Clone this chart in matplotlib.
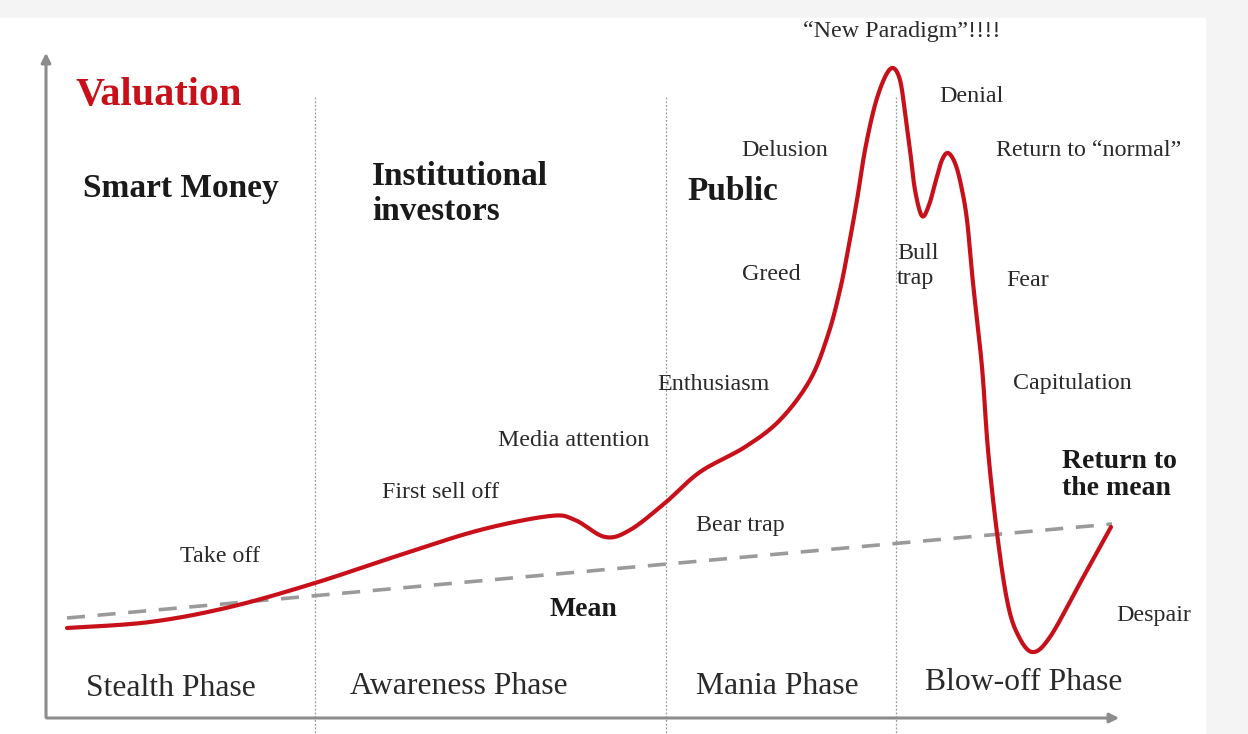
"""Stages of a bubble: valuation over time with the four phases."""

import matplotlib

matplotlib.use("Agg")
import matplotlib.pyplot as plt
import numpy as np
from matplotlib.patches import Rectangle

# valuation curve (x = time, y = screen position, down is low)
curve_x = [67, 150, 230, 315, 400, 480, 550, 575, 605, 630, 665, 700, 745, 780,
           810, 828, 840, 848, 857, 865, 875, 885, 893, 900, 905, 910, 915, 922,
           929, 936, 942, 948, 955, 961, 967, 973, 982, 988, 997, 1007, 1017,
           1032, 1050, 1080, 1111]
curve_y = [628, 622, 607, 583, 555, 530, 516, 520, 537, 530, 503, 472, 447, 420,
           380, 335, 290, 250, 200, 150, 105, 77, 68, 80, 112, 150, 190, 216,
           205, 180, 160, 153, 163, 185, 220, 283, 367, 450, 533, 600, 633,
           652, 637, 583, 527]
mean_x = [67, 1112]
mean_y = [618, 524]
phase_bounds = [315, 666, 896]

RED = "#c8101a"
GREY = "#8c8c8c"
SERIF = ["Liberation Serif", "DejaVu Serif"]


def catmull_rom(xs, ys, n=20):
    p = np.column_stack([xs, ys]).astype(float)
    p = np.vstack([p[0], p, p[-1]])
    out = []
    t = np.linspace(0, 1, n, endpoint=False)[:, None]
    for i in range(1, len(p) - 2):
        p0, p1, p2, p3 = p[i - 1], p[i], p[i + 1], p[i + 2]
        seg = 0.5 * ((2 * p1) + (-p0 + p2) * t + (2 * p0 - 5 * p1 + 4 * p2 - p3) * t ** 2
                     + (-p0 + 3 * p1 - 3 * p2 + p3) * t ** 3)
        out.append(seg)
    out.append(p[-2][None, :])
    s = np.vstack(out)
    return s[:, 0], s[:, 1]


fig = plt.figure(figsize=(12.48, 7.34), dpi=100)
fig.patch.set_facecolor("#f4f4f4")
ax = fig.add_axes([0, 0, 1, 1])
ax.set_xlim(0, 1248)
ax.set_ylim(734, 0)
ax.axis("off")
ax.add_patch(Rectangle((0, 18), 1205, 716, color="white", zorder=0))

# phase separators
for xb in phase_bounds:
    ax.plot([xb, xb], [97, 734], color="#9a9a9a", lw=0.9, ls=(0, (1.5, 1.5)), zorder=1)

# axes arrows
ax.annotate("", xy=(46, 50), xytext=(46, 720),
            arrowprops=dict(arrowstyle="-|>", color=GREY, lw=2.2, mutation_scale=14))
ax.annotate("", xy=(1122, 718), xytext=(44, 718),
            arrowprops=dict(arrowstyle="-|>", color=GREY, lw=2.2, mutation_scale=14))

ax.plot(mean_x, mean_y, color="#9a9a9a", lw=2.6, ls=(0, (5, 3.5)), zorder=2)
sx, sy = catmull_rom(curve_x, curve_y)
ax.plot(sx, sy, color=RED, lw=3, solid_capstyle="round", zorder=3)

ax.text(75, 95, "Valuation", color=RED, fontsize=29, fontweight="bold",
        family=SERIF, va="center")

bold_labels = [
    (83, 188, "Smart Money"),
    (372, 194, "Institutional\ninvestors"),
    (687, 192, "Public"),
]
for x, y, s in bold_labels:
    ax.text(x, y, s, fontsize=24, fontweight="bold", family=SERIF, va="center",
            color="#1a1a1a", linespacing=1.2)

ax.text(1062, 475, "Return to\nthe mean", fontsize=20, fontweight="bold",
        family=SERIF, va="center", color="#1a1a1a", linespacing=1.12)
ax.text(550, 609, "Mean", fontsize=20, fontweight="bold", family=SERIF,
        va="center", color="#1a1a1a")

small_labels = [
    (803, 31, "\u201cNew Paradigm\u201d!!!!"),
    (741, 150, "Delusion"),
    (939, 97, "Denial"),
    (996, 151, "Return to \u201cnormal\u201d"),
    (897, 266, "Bull\ntrap"),
    (742, 274, "Greed"),
    (1006, 281, "Fear"),
    (657, 384, "Enthusiasm"),
    (1013, 384, "Capitulation"),
    (498, 441, "Media attention"),
    (382, 492, "First sell off"),
    (696, 526, "Bear trap"),
    (180, 557, "Take off"),
    (1116, 615, "Despair"),
]
for x, y, s in small_labels:
    ax.text(x, y, s, fontsize=17.3, family=SERIF, va="center", color="#2a2a2a",
            linespacing=1.25)

phase_labels = [
    (86, 688, "Stealth Phase"),
    (350, 687, "Awareness Phase"),
    (696, 687, "Mania Phase"),
    (925, 682, "Blow-off Phase"),
]
for x, y, s in phase_labels:
    ax.text(x, y, s, fontsize=22.8, family=SERIF, va="center", color="#2a2a2a")

fig.savefig("out.png", dpi=100, facecolor=fig.get_facecolor())
